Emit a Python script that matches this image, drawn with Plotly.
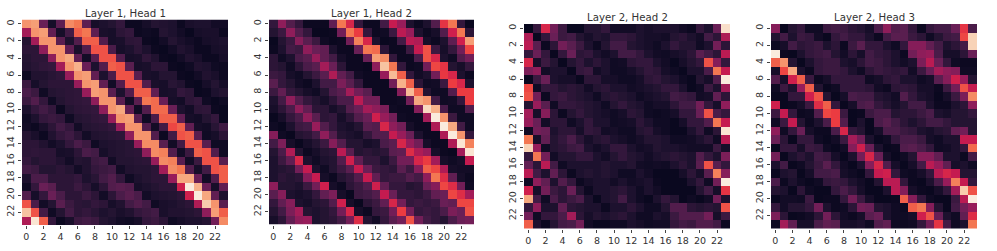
import plotly.graph_objects as go

cells = list(range(24))
tick_labels = [str(i) for i in range(0, 24, 2)]
titles = ["Layer 1, Head 1", "Layer 1, Head 2", "Layer 2, Head 2", "Layer 2, Head 3"]

layer1_head1 = [
[72,74,28,6,25,70,66,25,6,8,10,14,3,3,6,10,9,8,3,7,8,8,5,5],
[40,72,74,26,6,18,62,66,25,7,6,12,14,3,4,3,10,8,5,2,6,7,7,3],
[10,40,72,72,24,8,22,62,62,22,6,7,12,13,3,2,5,10,7,5,3,6,7,8],
[12,12,36,72,72,26,7,22,60,60,20,6,8,12,8,3,2,5,9,7,3,3,6,7],
[10,12,12,36,72,76,26,5,24,60,60,22,6,7,13,9,3,2,5,9,7,3,3,6],
[9,11,13,14,40,72,78,28,8,22,62,60,24,6,7,12,12,3,2,4,9,8,4,3],
[3,9,9,11,13,38,72,74,26,8,20,60,60,24,7,6,10,10,3,2,5,9,7,3],
[16,6,10,12,12,12,38,72,74,26,5,22,60,60,22,7,6,11,9,3,2,6,10,6],
[20,16,4,10,11,12,13,38,74,72,24,8,22,62,62,26,6,7,14,12,2,3,8,10],
[16,22,14,4,10,12,13,14,36,72,72,24,5,24,66,64,28,6,5,12,14,4,2,4],
[8,14,18,14,3,10,12,13,14,36,72,76,26,4,22,64,64,28,8,5,12,13,3,2],
[4,8,14,16,14,4,10,11,13,14,38,72,74,24,4,20,62,62,26,6,5,10,14,2],
[5,3,7,12,18,14,5,10,11,12,14,38,72,72,22,5,18,58,62,26,6,5,11,17],
[10,7,3,9,14,17,12,5,9,10,11,12,36,72,72,22,3,18,60,62,24,4,6,12],
[12,12,9,5,8,14,20,16,4,8,9,10,11,38,70,70,24,5,18,60,60,24,4,4],
[12,13,12,12,6,7,12,20,18,6,9,10,11,12,36,70,68,22,5,16,62,60,22,4],
[14,10,12,12,9,5,10,9,16,18,5,10,10,11,12,38,70,68,24,5,16,60,60,24],
[18,16,10,10,12,10,5,9,14,16,18,5,9,10,10,12,40,70,66,22,6,18,60,62],
[8,20,20,12,12,12,14,8,11,18,22,14,4,8,10,12,12,38,76,76,28,5,22,62],
[4,14,28,24,12,12,16,12,6,12,22,24,22,6,8,10,12,12,48,95,78,28,6,26],
[22,6,14,28,20,12,12,16,12,5,12,20,24,20,5,8,9,10,12,48,98,76,26,8],
[60,20,5,10,24,16,12,11,14,12,6,9,18,22,18,4,7,8,10,12,42,84,72,24],
[82,60,18,4,10,18,12,14,11,8,10,7,9,14,16,18,7,9,9,10,12,36,74,62],
[42,92,62,14,3,7,16,18,16,10,8,5,4,6,14,16,12,4,6,8,8,10,30,70],
]

layer1_head2 = [
[14,36,22,14,3,3,3,26,66,50,14,3,3,18,46,38,8,3,8,22,54,66,14,2],
[10,16,36,22,14,2,2,3,30,66,56,14,3,4,16,44,38,8,3,6,22,48,66,12],
[2,10,16,34,24,16,4,2,3,30,68,50,8,2,3,18,44,42,6,3,8,25,48,74],
[3,8,18,16,36,28,26,8,3,3,28,66,64,12,3,3,16,46,60,16,6,14,30,58],
[12,4,8,20,24,38,26,18,6,3,3,28,74,70,14,3,3,20,60,50,8,4,22,30],
[12,10,4,12,20,24,40,28,12,3,3,2,36,82,66,14,3,4,30,58,54,10,6,14],
[16,14,6,4,10,16,24,42,26,18,5,3,3,38,80,62,14,5,8,30,55,50,8,3],
[24,14,10,5,3,8,18,18,32,24,14,3,3,3,30,78,62,12,4,5,16,56,50,8],
[16,26,14,10,6,4,10,20,24,40,30,24,3,3,3,34,80,62,10,4,4,22,56,56],
[8,18,36,22,14,10,6,12,20,20,44,30,30,3,3,4,30,76,72,18,4,5,14,56],
[6,12,20,36,26,12,12,6,10,22,28,40,36,32,4,3,3,34,88,78,20,4,4,22],
[2,6,14,20,36,24,12,14,6,12,22,28,48,38,30,4,3,3,40,96,72,16,4,4],
[4,2,8,16,18,38,22,14,8,6,10,24,22,50,36,30,6,3,3,42,95,76,18,4],
[34,4,2,10,12,18,36,22,10,8,6,14,22,22,46,38,28,8,3,3,42,98,72,14],
[18,32,6,2,6,10,16,34,22,10,10,6,8,20,24,50,38,30,6,3,3,42,92,68],
[10,20,42,10,3,6,10,12,44,24,10,12,10,12,24,26,52,42,38,6,3,2,40,92],
[8,16,26,50,8,4,8,10,22,48,26,14,14,8,16,30,30,50,56,40,6,4,6,46],
[8,10,12,30,46,8,4,10,16,24,46,28,16,14,12,24,16,34,62,58,42,6,5,5],
[8,12,10,12,34,46,6,3,10,14,22,46,26,14,16,16,22,18,36,66,52,26,6,3],
[36,10,10,8,16,30,48,6,3,12,16,22,48,26,14,14,10,12,28,34,58,52,30,4],
[24,34,8,6,8,14,26,32,6,2,16,18,22,46,28,14,14,12,16,26,28,58,52,40],
[14,26,34,8,6,10,12,22,48,6,2,12,16,26,50,30,14,16,14,16,28,26,58,58],
[10,18,32,40,10,8,10,14,30,50,6,3,14,16,30,56,30,14,16,14,20,32,28,60],
[6,12,26,36,38,8,10,12,18,30,52,10,5,14,24,30,60,30,18,14,10,20,28,30],
]

layer2_head2 = [
[1,15,50,30,16,2,2,10,10,14,5,5,5,8,6,8,8,8,5,3,14,8,28,90],
[42,2,14,28,16,18,10,6,10,8,14,14,12,8,6,6,5,10,12,8,5,18,12,42],
[44,24,3,12,30,24,16,8,3,10,18,18,10,8,6,4,8,14,10,10,4,8,30,12],
[14,28,14,2,14,28,12,14,8,5,8,18,18,14,8,5,4,6,8,12,24,18,12,44],
[50,6,16,10,2,10,14,8,12,8,4,5,12,14,14,8,5,2,6,10,14,60,34,14],
[32,36,5,8,8,2,14,16,5,8,4,4,6,10,14,12,6,4,2,8,8,20,66,46],
[2,16,28,8,6,6,2,12,12,6,6,4,4,6,12,14,10,8,4,2,10,6,22,94],
[58,4,14,14,10,12,10,5,10,12,8,8,5,6,8,10,14,14,8,2,4,16,8,40],
[60,30,3,14,16,12,10,8,4,10,12,10,8,4,6,8,10,18,16,14,5,6,26,12],
[10,38,24,4,14,14,12,10,8,4,10,14,10,8,4,6,6,12,18,18,30,14,6,36],
[40,6,34,12,3,10,14,10,8,6,4,6,12,10,4,3,4,6,14,14,28,60,20,14],
[38,28,5,12,12,4,8,14,8,8,4,5,6,12,8,4,4,2,6,14,14,22,66,46],
[4,30,28,8,12,12,6,14,12,5,6,4,4,10,12,6,4,2,2,8,14,4,12,92],
[66,6,26,10,14,20,12,6,10,12,8,6,4,6,10,10,8,4,4,5,8,12,4,44],
[86,38,4,10,12,16,18,8,5,8,14,14,8,5,6,10,8,8,6,5,5,5,16,6],
[14,66,30,5,10,10,14,14,8,5,10,14,10,8,5,8,10,12,10,8,22,14,8,32],
[26,12,44,18,4,8,8,8,8,10,8,8,10,5,4,5,4,8,12,8,24,60,24,14],
[44,18,8,26,12,3,8,10,8,10,8,4,4,8,5,2,2,2,6,12,6,24,68,34],
[4,36,26,8,22,14,3,6,8,8,5,8,5,6,8,3,2,2,2,8,14,4,30,94],
[48,6,30,16,12,28,10,3,8,8,10,12,8,4,8,5,2,2,2,2,10,18,6,54],
[76,18,4,20,12,16,20,8,2,8,10,18,8,4,2,8,14,10,2,4,2,5,30,8],
[14,36,8,8,26,12,10,8,8,3,8,8,12,8,4,4,10,22,22,12,10,12,10,60],
[30,4,14,14,20,40,12,6,10,8,10,12,8,4,4,8,6,16,22,22,22,30,6,16],
[62,8,2,10,18,20,30,5,2,2,4,4,8,6,4,5,5,14,18,16,22,22,18,3],
]

layer2_head3 = [
[34,2,10,14,4,4,16,18,16,12,10,6,20,36,22,24,14,3,14,18,18,28,54,20],
[10,18,8,16,14,5,2,14,18,14,14,8,3,18,24,24,16,12,4,10,16,18,58,86],
[3,6,18,12,14,16,8,12,3,16,24,14,14,8,4,14,34,34,26,18,8,12,18,86],
[94,3,2,8,14,16,18,10,5,12,6,18,14,12,8,3,30,36,38,20,6,6,12,28],
[62,72,10,2,8,14,16,16,8,6,12,18,16,12,8,5,8,32,44,28,14,4,3,3],
[6,58,76,8,3,14,16,16,14,8,4,12,16,14,12,14,5,16,28,40,36,34,4,4],
[22,6,48,62,16,3,6,14,14,14,14,4,6,12,14,8,8,4,6,24,34,48,38,10],
[4,16,8,38,62,10,2,4,14,14,14,12,5,3,12,14,12,6,6,3,16,30,60,46],
[2,2,14,14,48,60,10,2,6,20,18,18,10,8,5,22,14,8,6,2,6,16,32,70],
[48,2,3,6,16,52,62,14,2,6,20,22,14,10,6,10,18,18,8,3,3,8,12,36],
[16,46,14,3,4,22,58,56,16,2,3,16,20,20,10,12,12,16,20,8,6,10,10,14],
[4,16,46,10,3,8,20,56,22,2,8,2,20,24,18,12,8,12,18,18,14,10,10,10],
[36,4,14,28,6,3,3,20,50,14,10,2,6,20,20,16,14,8,6,10,12,26,30,10],
[28,12,2,14,14,4,2,5,16,40,30,8,2,4,14,20,20,16,6,4,8,8,46,46],
[2,14,14,6,16,14,4,2,5,34,48,28,8,2,3,22,24,20,14,4,5,8,14,64],
[30,2,8,12,8,18,16,6,2,8,30,50,28,6,2,4,10,34,34,26,8,8,3,18],
[8,18,2,4,10,16,24,14,5,2,8,34,50,22,6,2,6,18,44,38,26,6,8,4],
[2,8,10,2,6,18,18,20,6,4,2,14,46,48,14,4,3,6,14,44,50,46,10,10],
[20,3,8,4,2,4,14,16,14,8,5,2,10,44,44,14,3,2,8,20,38,68,46,14],
[10,8,2,12,4,2,2,14,20,14,6,2,2,8,44,34,6,3,2,6,14,40,84,60],
[2,5,5,4,16,2,3,3,14,30,16,6,2,2,3,62,34,14,4,2,2,16,44,94],
[14,5,10,10,14,30,8,3,4,12,30,28,10,8,4,3,62,66,34,10,2,18,30,38],
[32,12,2,3,5,12,30,12,5,3,6,24,28,8,4,4,6,48,60,28,8,4,26,52],
[3,40,26,6,6,20,26,24,6,6,8,4,22,26,4,3,4,14,30,54,18,4,8,66],
]

matrices = [layer1_head1, layer1_head2, layer2_head2, layer2_head3]
for m in matrices:
    assert len(m) == 24 and all(len(r) == 24 for r in m), [len(r) for r in m]

rocket = [
    [0.0, "#03051a"], [0.1, "#221331"], [0.2, "#451c47"], [0.3, "#6a1f56"],
    [0.4, "#951c5b"], [0.5, "#cb1b4f"], [0.6, "#ec3c40"], [0.7, "#f37651"],
    [0.8, "#f6a47b"], [0.9, "#f8cfb0"], [1.0, "#faebdd"],
]

W, H = 997, 251
# pixel frames of the four panels in the photographed page: left, right, top, bottom
frames = [(22, 228, 19.5, 225), (269, 474, 19.5, 224.5),
          (524, 730, 24, 228.5), (771, 977, 24, 228.5)]

fig = go.Figure()
layout = dict(
    width=W, height=H, margin=dict(l=0, r=0, t=0, b=0),
    paper_bgcolor="white", plot_bgcolor="white", showlegend=False,
    font=dict(family="DejaVu Sans", size=9, color="#333333"),
)
annotations = []
for n, (m, t, fr) in enumerate(zip(matrices, titles, frames), start=1):
    l, r, top, bot = fr
    suffix = "" if n == 1 else str(n)
    fig.add_trace(go.Heatmap(z=m, x=cells, y=cells, colorscale=rocket, zmin=0, zmax=94,
                             showscale=False, xaxis="x" + suffix, yaxis="y" + suffix))
    common = dict(tickmode="array", tickvals=cells[::2], ticktext=tick_labels,
                  ticks="outside", ticklen=3, tickwidth=1, tickcolor="#444444",
                  showgrid=False, zeroline=False, showline=False,
                  tickfont=dict(family="DejaVu Sans", size=9.5, color="#333333"))
    layout["xaxis" + suffix] = dict(domain=[l / W, r / W], range=[-0.5, 23.5],
                                    anchor="y" + suffix, tickangle=0, **common)
    layout["yaxis" + suffix] = dict(domain=[1 - bot / H, 1 - top / H], range=[23.5, -0.5],
                                    anchor="x" + suffix, tickangle=-90, **common)
    annotations.append(dict(text=t, x=(l + r) / 2 / W, y=1 - (top + 1) / H,
                            xref="paper", yref="paper", xanchor="center", yanchor="bottom",
                            showarrow=False,
                            font=dict(family="DejaVu Sans", size=10.2, color="#333333")))
layout["annotations"] = annotations
fig.update_layout(**layout)
fig.write_html("out.html", config={"displayModeBar": False},
               post_script="document.body.style.margin='0';document.documentElement.style.overflow='hidden';")
